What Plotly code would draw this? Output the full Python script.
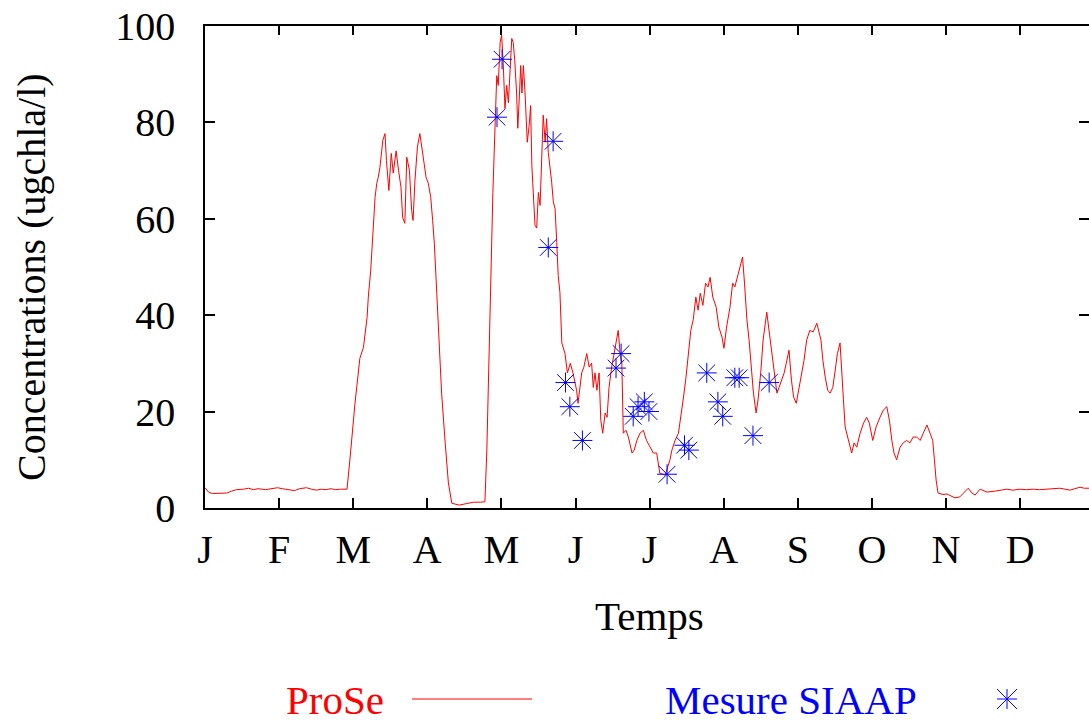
import plotly.graph_objects as go

W, H = 1089, 722

# ---------------- data ----------------
months = ["J", "F", "M", "A", "M", "J", "J", "A", "S", "O", "N", "D"]
month_step = 30.63  # axis units (days) between month ticks
y_ticks = [0, 20, 40, 60, 80, 100]

day = [0, 1.5, 3, 6, 9, 11, 13, 16, 18, 20, 22, 25, 27, 30, 32, 35, 37, 39, 42, 44, 46, 48,
       50, 52, 54, 56, 58, 58.7, 60, 62, 64, 65.5, 67, 67.5, 68.5, 69.4, 70.3, 71, 71.6, 72.3,
       73.5, 74.4, 75, 76, 77, 77.8, 79, 80, 81, 81.7, 82.6, 83.4, 84.5, 85.4, 86, 86.8, 87.8,
       88.8, 89.6, 90.5, 91.4, 92.3, 93.3, 94.1, 94.8, 95.8, 96.5, 97.8, 99.3, 100.6, 102, 105,
       108, 111, 114, 115.7, 116.5, 117.3, 118.2, 119, 120, 120.6, 121.2, 122, 122.6, 123.2,
       124, 124.7, 125.4, 126, 126.8, 127.4, 128, 128.8, 129.3, 130, 130.5, 131, 131.6, 132.3,
       132.7, 133.2, 134, 134.6, 135.1, 135.7, 136.4, 137.1, 137.8, 138.5, 139.2, 139.8, 140.6,
       141.2, 141.9, 142.6, 143.3, 144, 144.7, 145.4, 146, 146.7, 147.1, 147.5, 148.8, 149.8,
       151, 152.1, 153.6, 154.2, 155.7, 156.6, 157.8, 158.8, 159.8, 160.5, 161.2, 162, 162.9,
       163.6, 164.4, 165.4, 166.2, 167, 168.1, 169, 170.2, 170.8, 171.6, 172.3, 172.9, 174,
       175, 176.5, 177.4, 178.5, 179.8, 181.2, 182.5, 184, 185.3, 186.7, 188, 190.2, 192.2,
       193, 194.3, 195.7, 197, 197.8, 198.8, 199.8, 200.8, 201.8, 202.9, 203.8, 204.7, 205.8,
       206.9, 207.9, 208.8, 209.9, 211.3, 212.4, 213.7, 214.5, 215.6, 217, 218.1, 219, 220,
       221.3, 222.2, 223, 224, 224.9, 225.9, 226.7, 227.8, 228.6, 229.7, 230.7, 232.2, 233.2,
       234.4, 235.3, 236.4, 237.3, 238.3, 239.4, 240.5, 241.4, 242.4, 243.3, 244.4, 245.4,
       246.6, 247.6, 248.7, 250, 251.4, 252.9, 254.6, 255.4, 256.4, 257.4, 258.4, 259.5, 260.5,
       261.4, 262.5, 263.2, 263.9, 264.6, 265.3, 266.4, 267.3, 268.3, 269.4, 270.8, 272.2,
       273.5, 274.6, 276, 277.4, 279, 280.4, 281.8, 282.9, 283.9, 284.8, 285.9, 287.3, 288.6,
       290, 291.4, 292.7, 294.2, 295.6, 296.9, 298.4, 299.7, 300.8, 301.5, 302.2, 303, 305,
       306.7, 308.5, 310, 312, 313.5, 315.5, 317, 318.3, 320.4, 323.2, 326.6, 329, 331.4, 334,
       336.9, 339.5, 342.3, 345, 348, 351, 353.4, 355.5, 357.6, 359.5, 361.7, 363.5, 365.4]

prose = [4.2, 3.3, 3.0, 3.0, 3.1, 3.5, 3.8, 3.9, 4.1, 3.8, 4.0, 3.8, 3.9, 4.2, 4.0, 3.7, 3.6, 4.0,
         4.2, 3.9, 3.7, 3.9, 3.8, 4.0, 3.8, 3.9, 3.8, 3.9, 10.6, 21.7, 31, 33.3, 39.5, 43.7, 49.3,
         57, 64.4, 67.3, 68.5, 70.6, 76.2, 77.6, 72, 65.8, 73.5, 69.4, 74, 70, 66.5, 60.2, 59,
         72.7, 70, 61.7, 59.6, 68, 74.8, 77.6, 74.8, 72, 68.5, 67.3, 64.4, 59.6, 54.8, 44.5, 37.5,
         23.8, 13.4, 5.2, 1.0, 0.6, 0.9, 1.2, 1.2, 1.3, 12, 30, 50, 65.4, 80.7, 89.6, 87.6, 96.5,
         98, 93, 82.8, 87.6, 84, 90.3, 97.3, 96.5, 93, 86, 78.7, 86, 91.7, 86, 91.7, 86, 79.3,
         75.8, 79.3, 83.4, 71, 64.2, 58.6, 58, 65.4, 62.7, 71, 81.4, 75.8, 80.7, 73.7, 71, 67.5,
         63.4, 62, 55, 48.2, 44.7, 38.5, 34.2, 32, 28, 30, 28, 24.4, 21.7, 28, 29.2, 32, 29.2, 30,
         25, 28, 24.4, 28, 18.2, 15.5, 19.7, 18.8, 25, 29.2, 32, 34.8, 36.8, 32, 30, 15.5, 16.1,
         14.7, 11.4, 12, 14, 15.5, 16.1, 14, 12.6, 11.4, 11.4, 7.2, 6.8, 10, 12, 14, 15.5, 19.7,
         23, 27, 32, 36.8, 39, 43.7, 41, 44.5, 42, 46.6, 45.8, 47.8, 43.7, 41.6, 37.5, 35.4, 33.1,
         37.5, 41.6, 46.6, 45.8, 47.8, 50, 52, 46.6, 39, 34.8, 29.2, 23.8, 19.7, 22.4, 28, 34.8,
         40.6, 36.8, 32, 28, 23.8, 25, 26.5, 28, 30.6, 32.7, 26.5, 23, 21.7, 24.5, 27, 30.6, 34.8,
         36.8, 36.5, 38.3, 34.8, 30.6, 27, 24.4, 23.8, 25, 28.6, 32, 34.2, 29.2, 22.4, 16.8, 15.5,
         13.5, 11.4, 13.5, 12.6, 15.5, 17.6, 18.8, 17.6, 14, 16.8, 18.8, 20.3, 21, 18.2, 14, 11.4,
         10, 12.6, 13.5, 14, 13.5, 14.7, 14.7, 14, 15.5, 17.2, 15.5, 14, 10, 5.8, 3.1, 2.8, 2.9,
         2.4, 2.1, 2.3, 3.1, 4.1, 3.1, 2.7, 3.9, 3.3, 3.5, 3.7, 3.9, 3.7, 3.9, 3.8, 3.9, 3.8, 3.9,
         4.0, 4.1, 3.9, 3.7, 4.0, 4.3, 4.1, 4.1]

mes_day = [120.7, 122.8, 141.9, 143.9, 149.0, 150.8, 156.0, 169.9, 172.0, 177.0, 179.0,
           183.5, 181.6, 191.0, 198.2, 200.0, 207.4, 212.0, 214.0, 219.0, 220.8, 226.5, 233.2]
mes_val = [81, 93, 54, 76, 26, 21, 14, 29, 32, 19, 21, 20, 22, 7, 13, 12, 28, 22, 19, 27, 27,
           15, 26]

# ---------------- layout constants ----------------
FONT = "Liberation Serif"
L_PX, R_PX, T_PX, B_PX = 205, 1089, 25.5, 508
RED = "#ff0000"
BLUE = "#0000ff"
STAR = (("cross-thin-open", 14.3), ("x-thin-open", 16.7))


def px(x):
    return x / W


def py(y):
    return 1 - y / H


fig = go.Figure()
fig.add_trace(go.Scatter(x=day, y=prose, mode="lines", name="ProSe",
                         line=dict(color=RED, width=1), showlegend=False))
for sym, size in STAR:
    fig.add_trace(go.Scatter(x=mes_day, y=mes_val, mode="markers", name="Mesure SIAAP",
                             marker=dict(symbol=sym, size=size, color=BLUE,
                                         line=dict(color=BLUE, width=1)),
                             showlegend=False, cliponaxis=False))

axis_common = dict(ticks="inside", ticklen=10, tickwidth=1.5, tickcolor="black",
                   showline=True, linewidth=1.5, linecolor="black", mirror="ticks",
                   showgrid=False, zeroline=False, automargin=False,
                   tickfont=dict(family=FONT, size=40, color="black"))

# legend key star drawn as a path in paper units (gnuplot "star" point: + and x)
sx, sy, r = 1007, 699, 10
star_path = (f"M {px(sx - r)},{py(sy)} L {px(sx + r)},{py(sy)} "
             f"M {px(sx)},{py(sy - r)} L {px(sx)},{py(sy + r)} "
             f"M {px(sx - r)},{py(sy - r)} L {px(sx + r)},{py(sy + r)} "
             f"M {px(sx - r)},{py(sy + r)} L {px(sx + r)},{py(sy - r)}")

fig.update_layout(
    width=W, height=H,
    margin=dict(l=0, r=0, t=0, b=0, autoexpand=False),
    paper_bgcolor="white", plot_bgcolor="white",
    showlegend=False,
    xaxis=dict(domain=[px(L_PX), px(R_PX)], range=[0, 365.4],
               tickvals=[k * month_step for k in range(12)], ticktext=months,
               ticklabelstandoff=5, **axis_common),
    yaxis=dict(domain=[py(B_PX), py(T_PX)], range=[0, 100], tickvals=y_ticks,
               ticklabelstandoff=20, **axis_common),
    annotations=[
        dict(text="Concentrations (ugchla/l)", x=px(31), y=py(277), xref="paper", yref="paper",
             textangle=-90, showarrow=False, font=dict(family=FONT, size=40, color="black"),
             xanchor="center", yanchor="middle"),
        dict(text="Temps", x=px(649), y=py(616), xref="paper", yref="paper", showarrow=False,
             font=dict(family=FONT, size=41, color="black"), xanchor="center", yanchor="middle"),
        dict(text="ProSe", x=px(335), y=py(700), xref="paper", yref="paper", showarrow=False,
             font=dict(family=FONT, size=41, color=RED), xanchor="center", yanchor="middle"),
        dict(text="Mesure SIAAP", x=px(791), y=py(700), xref="paper", yref="paper",
             showarrow=False, font=dict(family=FONT, size=41, color=BLUE),
             xanchor="center", yanchor="middle"),
    ],
    shapes=[
        dict(type="line", xref="paper", yref="paper", x0=px(412), x1=px(532),
             y0=py(699), y1=py(699), line=dict(color=RED, width=1)),
        dict(type="path", xref="paper", yref="paper", path=star_path,
             line=dict(color=BLUE, width=1)),
    ],
)

# place the figure at the page origin (no default body margin / scrollbars)
fig.write_html("out.html",
               config={"displayModeBar": False},
               post_script="document.body.style.margin='0px';"
                           "document.body.style.overflow='hidden';")
